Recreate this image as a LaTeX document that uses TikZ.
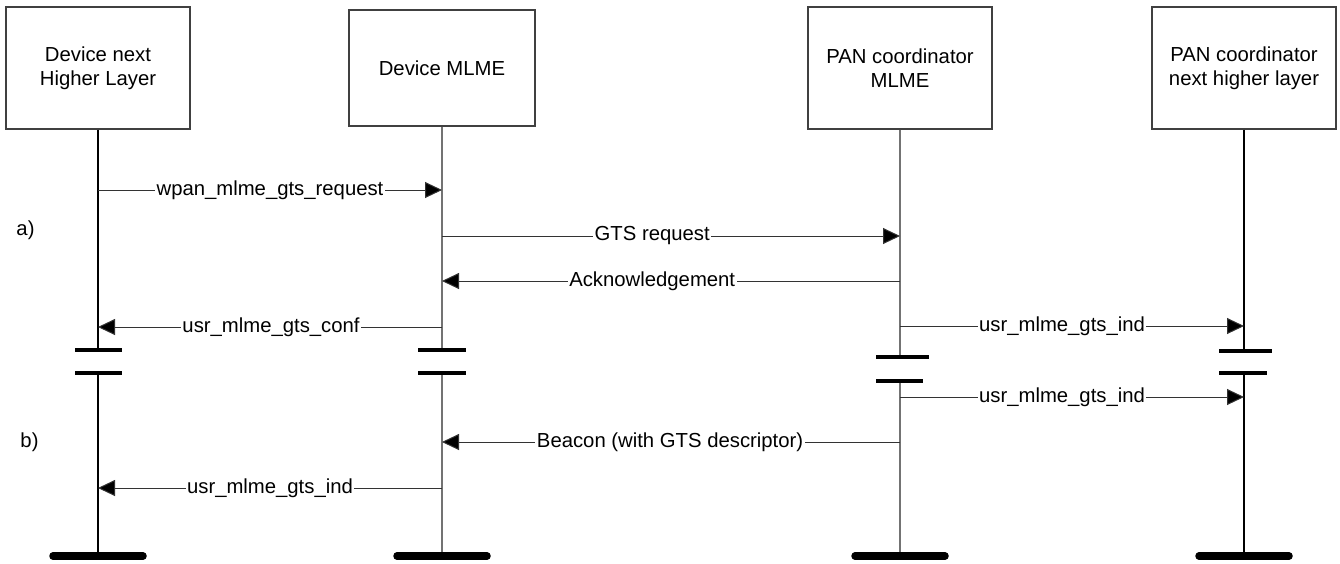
\documentclass[tikz,border=0pt]{standalone}
\usepackage{fontspec}
\setmainfont{Liberation Sans}
\usetikzlibrary{arrows.meta}
\begin{document}
\begin{tikzpicture}[x=1pt,y=-1pt,
  every node/.style={font=\fontsize{20.3}{23.5}\selectfont},
  actor/.style={draw=black!75,line width=1.1pt,align=center,minimum width=184pt,minimum height=122pt,inner sep=0pt},
  life/.style={line width=1.3pt},
  lifegray/.style={line width=1.3pt,draw=black!55},
  brk/.style={line width=4pt},
  endbar/.style={line width=7.5pt,line cap=round},
  msg/.style={line width=1pt,draw=black!80,-{Triangle[length=17pt,width=16pt,fill=black]}},
  lbl/.style={fill=white,inner sep=1.5pt,text=black}]
\useasboundingbox (0,0) rectangle (1340,563);
% actors
\node[actor] (b1) at (98,68) {Device next\\Higher Layer};
\node[actor,minimum width=186pt,minimum height=116pt] (b2) at (442,68) {Device MLME};
\node[actor] (b3) at (900,68) {PAN coordinator\\MLME};
\node[actor] (b4) at (1244,68) {PAN coordinator\\next higher layer};
% lifeline coordinates
\coordinate (l1a) at (98,350); \coordinate (l1b) at (98,373); \coordinate (l1e) at (98,556);
\coordinate (l2a) at (442,350); \coordinate (l2b) at (442,373); \coordinate (l2e) at (442,556);
\coordinate (l3a) at (900,357); \coordinate (l3b) at (900,381); \coordinate (l3e) at (900,556);
\coordinate (l4a) at (1244,351); \coordinate (l4b) at (1244,373); \coordinate (l4e) at (1244,556);
% lifelines
\draw[life] (b1.south) -- (l1a); \draw[life] (l1b) -- (l1e);
\draw[lifegray] (b2.south) -- (l2a); \draw[lifegray] (l2b) -- (l2e);
\draw[lifegray] (b3.south) -- (l3a); \draw[lifegray] (l3b) -- (l3e);
\draw[life] (b4.south) -- (l4a); \draw[life] (l4b) -- (l4e);
% break markers
\draw[brk] ([xshift=-23pt]l1a) -- ([xshift=24pt]l1a);
\draw[brk] ([xshift=-23pt]l1b) -- ([xshift=24pt]l1b);
\draw[brk] ([xshift=-24pt]l2a) -- ([xshift=24pt]l2a);
\draw[brk] ([xshift=-24pt]l2b) -- ([xshift=24pt]l2b);
\draw[brk] ([xshift=-24pt]l3a) -- ([xshift=29pt]l3a);
\draw[brk] ([xshift=-24pt]l3b) -- ([xshift=23pt]l3b);
\draw[brk] ([xshift=-25pt]l4a) -- ([xshift=28pt]l4a);
\draw[brk] ([xshift=-25pt]l4b) -- ([xshift=23pt]l4b);
% end bars
\draw[endbar] ([xshift=-45pt]l1e) -- ([xshift=45pt]l1e);
\draw[endbar] ([xshift=-45pt]l2e) -- ([xshift=45pt]l2e);
\draw[endbar] ([xshift=-45pt]l3e) -- ([xshift=45pt]l3e);
\draw[endbar] ([xshift=-45pt]l4e) -- ([xshift=45pt]l4e);
% message end points
\coordinate (m1s) at (98,190);  \coordinate (m1e) at (442,190);
\coordinate (m2s) at (442,236); \coordinate (m2e) at (900,236);
\coordinate (m3s) at (900,281); \coordinate (m3e) at (442,281);
\coordinate (m4s) at (442,327); \coordinate (m4e) at (98,327);
\coordinate (m5s) at (900,326); \coordinate (m5e) at (1244,326);
\coordinate (m6s) at (900,397); \coordinate (m6e) at (1244,397);
\coordinate (m7s) at (900,442); \coordinate (m7e) at (442,442);
\coordinate (m8s) at (442,488); \coordinate (m8e) at (98,488);
% messages
\draw[msg] (m1s) -- node[lbl,pos=0.5] (t1) {wpan\_mlme\_gts\_request} (m1e);
\draw[msg] (m2s) -- node[lbl,pos=0.459] (t2) {GTS request} (m2e);
\draw[msg] (m3s) -- node[lbl,pos=0.541] (t3) {Acknowledgement} (m3e);
\draw[msg] (m4s) -- node[lbl,pos=0.497] (t4) {usr\_mlme\_gts\_conf} (m4e);
\draw[msg] (m5s) -- node[lbl,pos=0.471] (t5) {usr\_mlme\_gts\_ind} (m5e);
\draw[msg] (m6s) -- node[lbl,pos=0.471] (t6) {usr\_mlme\_gts\_ind} (m6e);
\draw[msg] (m7s) -- node[lbl,pos=0.502] (t7) {Beacon (with GTS descriptor)} (m7e);
\draw[msg] (m8s) -- node[lbl,pos=0.5] (t8) {usr\_mlme\_gts\_ind} (m8e);
% phase labels
\node (pa) at (25.5,230) {a)};
\node (pb) at (29.5,442) {b)};
\end{tikzpicture}
\end{document}
